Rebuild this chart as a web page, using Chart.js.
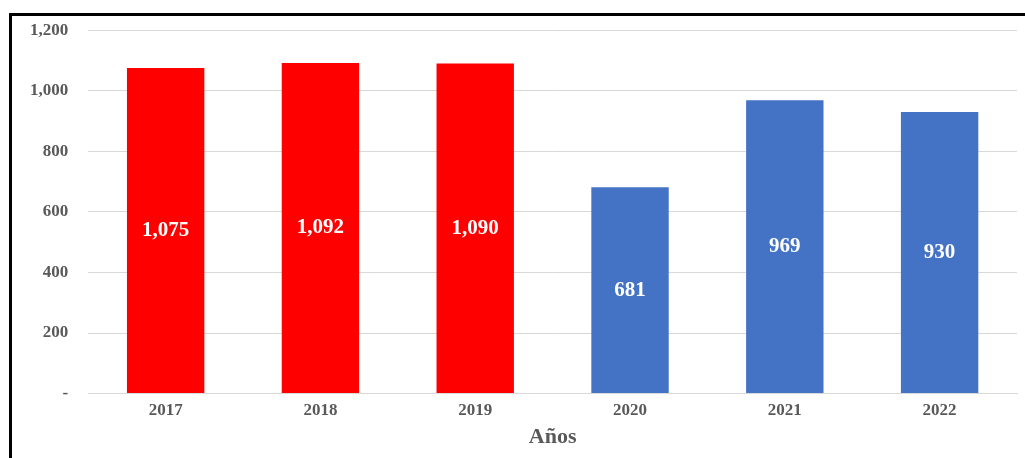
<!DOCTYPE html>
<html>
<head>
<meta charset="utf-8">
<script src="https://cdn.jsdelivr.net/npm/chart.js@4/dist/chart.umd.min.js"></script>
<style>
  html, body { margin: 0; padding: 0; background: #fff; overflow: hidden; }
  #marco { position: absolute; left: 9px; top: 13px; width: 1100px; height: 600px;
           border-left: 3px solid #000; border-top: 3px solid #000; box-sizing: border-box; }
  #wrap { position: absolute; left: 0; top: 0; width: 1025px; height: 458px; }
</style>
</head>
<body>
<div id="marco"></div>
<div id="wrap"><canvas id="grafico"></canvas></div>
<script>
/* datos del gráfico */
const ANIOS = ["2017", "2018", "2019", "2020", "2021", "2022"];
const VALORES = [1075, 1092, 1090, 681, 969, 930];
const COLORES = ["#FF0000", "#FF0000", "#FF0000", "#4472C4", "#4472C4", "#4472C4"];
const TICKS_Y = [0, 200, 400, 600, 800, 1000, 1200];

const FUENTE = "'Liberation Serif', 'Times New Roman', serif";

function formato(v) {
    if (v === 0) return "-";
    return v.toLocaleString("en-US");
}

/* etiquetas blancas dentro de las barras */
const etiquetasBarras = {
    id: "etiquetasBarras",
    afterDatasetsDraw(chart) {
        const ctx = chart.ctx;
        const meta = chart.getDatasetMeta(0);
        ctx.save();
        ctx.fillStyle = "#ffffff";
        ctx.font = "bold 21px " + FUENTE;
        ctx.textAlign = "center";
        ctx.textBaseline = "middle";
        meta.data.forEach((bar, i) => {
            const y = (bar.y + bar.base) / 2;
            ctx.fillText(formato(VALORES[i]), bar.x, y);
        });
        ctx.restore();
    }
};

new Chart(document.getElementById("grafico"), {
    type: "bar",
    data: {
        labels: ANIOS,
        datasets: [{
            data: VALORES,
            backgroundColor: COLORES,
            borderWidth: 0,
            categoryPercentage: 1,
            barPercentage: 0.5
        }]
    },
    options: {
        responsive: true,
        maintainAspectRatio: false,
        animation: false,
        layout: { padding: { top: 28, right: 8, left: 10, bottom: 10 } },
        plugins: {
            legend: { display: false },
            tooltip: { enabled: false }
        },
        scales: {
            x: {
                grid: { display: false, drawTicks: false },
                border: { color: "#d9d9d9", width: 1 },
                ticks: { color: "#595959", font: { family: FUENTE, size: 17, weight: "bold" }, padding: 7 },
                title: { display: true, text: "Años", color: "#595959",
                         font: { family: FUENTE, size: 22, weight: "bold", lineHeight: 1 },
                         padding: { top: -2, bottom: 0 } }
            },
            y: {
                min: 0,
                max: 1200,
                afterBuildTicks(axis) { axis.ticks = TICKS_Y.map(v => ({ value: v })); },
                grid: { color: "#d9d9d9", drawTicks: false },
                border: { display: false },
                ticks: { color: "#595959", font: { family: FUENTE, size: 17, weight: "bold" }, padding: 20,
                         callback: v => formato(v) }
            }
        }
    },
    plugins: [etiquetasBarras]
});
</script>
</body>
</html>
